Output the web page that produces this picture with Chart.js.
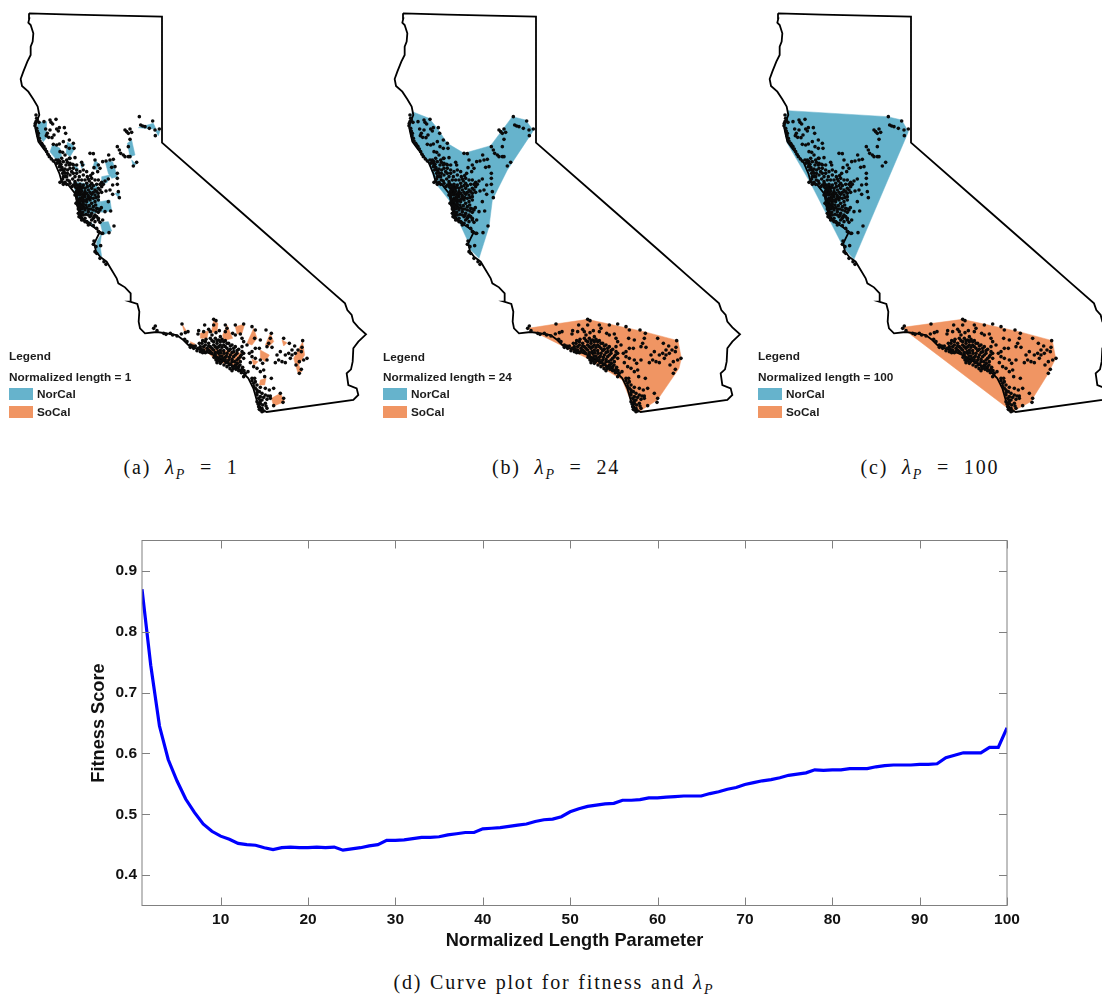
<!DOCTYPE html>
<html>
<head>
<meta charset="utf-8">
<script src="https://cdn.jsdelivr.net/npm/chart.js@4"></script>
<style>
  html, body { margin: 0; padding: 0; background: #fff; width: 1102px; height: 994px; overflow: hidden; }
  canvas { position: absolute; }
  .lg { position: absolute; font: bold 11.8px "Liberation Sans", Arial, sans-serif; color: #1c1c1c; white-space: nowrap; line-height: 12px; }
  .sw { position: absolute; width: 24px; height: 12px; }
  .cap { position: absolute; font: 20px "Liberation Serif", serif; letter-spacing: 1.8px; word-spacing: 1px; color: #111; text-align: center; white-space: nowrap; line-height: 20px; }
  .cap.short { word-spacing: 7px; }
  .cap i { font-size: 21px; }
  .cap sub { font-size: 14px; font-style: italic; line-height: 0; }
</style>
</head>
<body>
<canvas id="mapA" style="left:0px;top:0px"></canvas>
<canvas id="mapB" style="left:374.4px;top:0px"></canvas>
<canvas id="mapC" style="left:749.4px;top:0px"></canvas>
<canvas id="fitness" style="left:80px;top:530px"></canvas>
<script>
// fitness curve, lambda_P = 1..100
const lengthParam = [1,2,3,4,5,6,7,8,9,10,11,12,13,14,15,16,17,18,19,20,21,22,23,24,25,26,27,28,29,30,31,32,33,34,35,36,37,38,39,40,41,42,43,44,45,46,47,48,49,50,51,52,53,54,55,56,57,58,59,60,61,62,63,64,65,66,67,68,69,70,71,72,73,74,75,76,77,78,79,80,81,82,83,84,85,86,87,88,89,90,91,92,93,94,95,96,97,98,99,100];
const fitnessScore = [.87,.745,.645,.59,.555,.525,.503,.484,.472,.464,.459,.452,.45,.449,.445,.442,.445,.446,.445,.445,.446,.445,.446,.441,.443,.445,.448,.45,.457,.457,.458,.46,.462,.462,.463,.466,.468,.47,.47,.476,.477,.478,.48,.482,.484,.488,.491,.492,.496,.504,.509,.513,.515,.517,.518,.523,.523,.524,.527,.527,.528,.529,.53,.53,.53,.534,.537,.541,.544,.549,.552,.555,.557,.56,.564,.566,.568,.573,.572,.573,.573,.575,.575,.575,.578,.58,.581,.581,.581,.582,.582,.583,.593,.597,.601,.601,.601,.61,.61,.642];
const xTicks = [10,20,30,40,50,60,70,80,90,100];
const yTicks = [.4,.5,.6,.7,.8,.9];

// state outline, map units
const outline = [[87,40],[220,44],[350,47],[486,50],[486,428],[720,633],[850,747],[960,844],[1035,910],[1042,930],[1055,945],[1060,965],[1075,982],[1098,1003],[1075,1025],[1060,1045],[1058,1085],[1053,1108],[1040,1120],[1045,1155],[1070,1165],[1075,1185],[1060,1200],[800,1236],[785,1228],[770,1200],[760,1165],[745,1135],[715,1105],[680,1088],[640,1065],[600,1048],[570,1040],[550,1020],[530,1005],[500,1000],[470,996],[435,1000],[420,985],[416,965],[418,935],[412,912],[390,905],[392,880],[375,862],[355,850],[350,835],[335,810],[320,785],[300,770],[288,755],[283,730],[290,715],[300,695],[280,680],[255,665],[238,640],[232,610],[225,580],[205,555],[185,545],[178,520],[165,490],[150,470],[130,445],[115,425],[108,395],[105,378],[110,365],[118,345],[113,320],[100,298],[85,275],[66,258],[62,237],[70,215],[82,185],[92,165],[92,140],[98,125],[100,100],[92,75],[85,68],[88,55],[87,40]];

// station dots, read relative to the corner of each region
const norOrigin = [90, 315];
const norCalDots = [[18,30],[20,40],[18,50],[15,62],[20,70],[25,85],[28,100],[35,115],[42,125],[50,140],[58,155],[70,168],[80,175],
  [27,52],[42,50],[60,45],[63,52],[68,57],[78,43],[47,72],[60,75],[80,72],[88,68],[103,68],[107,85],[85,78],[72,90],[66,98],[56,97],[49,92],[52,85],[70,118],[80,120],[88,117],[100,110],[118,105],[130,115],[132,130],[118,130],[108,125],[98,142],[90,140],[105,150],[120,160],[135,158],[118,180],[130,180],[155,172],[158,180],[180,145],[190,146],[195,165],[205,180],[192,188],[188,205],[203,200],[210,190],
  [218,170],[228,168],[240,165],[250,163],[236,150],[262,125],[268,135],[272,145],[280,150],[285,155],[295,155],[300,155],[295,125],[300,103],[295,85],[285,75],[290,80],[305,82],[300,72],[328,35],[332,60],[338,63],[345,65],[358,70],[368,48],[375,75],[388,72],[376,92],[320,172],[310,183],[255,185],[245,187],[262,205],[262,220],[262,238],[248,240],[265,260],[268,278],[235,290],[242,318],[225,320],[218,345],[210,352],[205,340],[252,363],[237,383],[218,385],[192,408],[190,418],[198,425],[195,440],[212,422],[200,445],[210,460],[222,470],[228,478],
  [85,165],[88,175],[92,185],[100,195],[105,205],[100,215],[95,230],[105,232],[112,225],[120,235],[130,240],[135,230],[140,250],[145,260],[150,270],[140,275],[145,285],[150,295],[145,305],[150,320],[155,330],[165,340],[170,350],[180,355],[190,362],[200,370],[205,380],[215,385],
  [135,245],[142,240],[150,245],[155,250],[160,240],[170,235],[178,228],[185,235],[195,225],[205,225],[215,232],[225,228],[235,222],[215,245],[205,250],[195,255],[185,250],[175,255],[165,260],[158,268],[165,275],[175,272],[185,268],[195,270],[205,265],[215,262],[228,258],[240,255],[248,268],[205,285],[195,290],[180,285],[170,290],[160,290],[155,280],[168,300],[178,302],[190,305],[200,310],[210,315],[165,315],[175,320],[185,325],[195,330],[205,322],[160,305],[155,312],[150,310],[180,335],[190,340],[120,175],[130,190],[140,205],[148,215],[160,210],[172,215],[182,212],[125,200],[113,195],[108,180],[100,170],[95,160],[110,165],
  [146,255],[152,262],[158,275],[150,280],[146,292],[154,300],[160,298],[142,290],[148,315],[158,322],[146,268],[138,262],[142,268],[154,288],[165,268],[172,282],[185,295],[197,300],[145,325],[152,338],[160,345],[175,360],
  [90,170],[93,178],[96,188],[102,200],[92,195],[98,205],[106,215],[98,222],[90,232],[100,238],[110,238],[88,185],[84,172],[78,165],[105,192],[112,205],
  [22,78],[24,92],[30,108],[38,120],[46,132],[54,148],[64,162],[16,55],[22,45],
  [136,236],[144,246],[150,238],[158,245],[165,250],[172,245],[180,242],[190,242],[200,238],[210,238],[220,238],[140,258],[148,252],[155,258],[162,265],[170,265],[180,262],[190,262],[200,260],[210,255],[135,270],[142,282],[150,287],[158,283],[165,285],[175,280],[182,278],[190,280],[198,278],[205,275],[138,295],[143,300],[150,302],[157,308],[163,310],[170,308],[176,312],[183,312],[190,315],[198,318],[206,312],[214,308],[145,312],[152,325],[160,330],[168,328],[175,330],[183,332],[192,335],[200,335],[205,345],[147,335],[155,345],[165,350],[172,352],[185,345],[195,350],[125,245],[118,228],[128,222],[135,215],[145,225],[155,225],[165,225],[175,222],[185,220],[110,215],[120,210],[130,205],[140,195],[150,200],[160,195],[170,200],[120,190],[128,178],[140,180],[112,172],[118,160]];

const socOrigin = [436, 930];
const soCalDots = [[30,48],[25,55],[35,62],[55,70],[62,73],[75,70],[82,75],[95,78],[108,72],[120,68],[128,65],[110,42],[118,88],[125,95],[135,105],[145,115],[155,122],[165,125],
  [160,62],[158,72],[178,45],[190,58],[175,65],[195,65],[205,28],[212,32],[205,45],[200,75],[212,68],[222,62],[240,45],[245,55],[240,65],[225,80],[270,45],[295,42],[262,70],[270,75],[285,72],[290,85],[295,95],[320,50],[330,60],[328,85],[345,90],[362,60],[378,70],[375,85],[370,100],[365,110],[380,112],[415,85],[432,100],[448,108],[458,120],[472,92],[470,112],[468,125],[485,145],[475,150],[462,155],[468,178],[462,190],[452,165],[435,145],[420,135],[405,125],[395,135],[400,150],[390,158],[410,155],[420,158],[440,135],[450,130],[440,120],[430,130],[312,130],[320,125],[330,115],[342,115],[320,140],[330,145],[315,158],[345,150],[365,150],[352,160],[335,175],[345,185],[355,180],[358,200],[378,205],[308,185],[325,170],[295,130],[305,105],[290,110],
  [170,100],[180,95],[190,100],[200,92],[210,85],[220,90],[230,88],[240,92],[250,100],[260,105],[270,110],[280,118],[290,125],[165,110],[175,110],[185,115],[195,110],[205,105],[215,100],[225,105],[235,105],[245,115],[255,118],[265,125],[275,130],[285,140],[205,120],[215,115],[225,120],[235,122],[245,130],[255,135],[265,140],[275,150],[285,155],[210,135],[220,130],[230,138],[240,142],[250,150],[260,155],[270,165],[280,170],[290,178],[212,150],[222,145],[232,152],[242,158],[252,165],[262,170],[272,178],[215,158],[225,160],[300,190],[295,200],[195,125],[185,125],[175,120],
  [320,212],[330,215],[335,225],[325,230],[335,240],[345,232],[360,235],[372,240],[350,250],[360,255],[375,258],[335,255],[340,265],[350,270],[365,268],[375,265],[335,275],[345,280],[360,280],[340,290],[350,295],[355,303],[345,300],[405,250],[415,265],[413,277],[385,287],[365,295],
  [135,112],[142,108],[150,108],[158,115],[162,100],[172,92],[182,88],[195,85],[205,95],[215,92],[225,95],[235,95],[245,100],[255,108],[265,115],[275,122],[168,118],[180,105],[190,108],[200,115],[210,110],[220,110],[230,112],[240,110],[250,122],[260,128],[270,135],[280,145],[288,135],[295,145],[210,128],[218,125],[226,128],[236,130],[243,138],[252,142],[260,148],[268,155],[276,160],[284,165],[292,172],[215,142],[224,138],[232,145],[240,150],[248,158],[256,162],[264,175],[272,170],[280,182],[288,188],[296,182],[214,148],[220,152],[228,155],[236,165],[245,170],[254,176],[260,182],[206,142],[200,130],[190,120],[180,128],[172,128],
  [325,220],[330,235],[342,245],[335,248],[345,260],[355,262],[368,258],[345,272],[352,285],[362,288],[338,282],[342,298],[350,305],[385,235],[328,205],[320,205]];

// cluster regions for lambda = 1 (pieces), 24 and 100 (hulls)
const norPieces1 = [
  [[25,52],[50,50],[48,70],[52,95],[40,110],[30,95],[22,65]],
  [[68,118],[90,130],[95,155],[80,165],[60,140]],
  [[112,112],[130,120],[132,135],[120,155],[108,145]],
  [[225,168],[248,170],[262,215],[245,220],[235,205]],
  [[210,290],[240,285],[245,318],[215,322]],
  [[210,352],[235,350],[245,378],[220,390]],
  [[200,410],[215,385],[210,420],[215,455],[200,445]],
  [[292,115],[305,105],[315,150],[300,155]],
  [[325,68],[370,55],[378,72],[345,70]],
  [[375,75],[390,78],[385,92]],
  [[215,215],[240,210],[232,232],[215,240]],
  [[170,345],[190,358],[200,370],[185,365]],
  [[195,165],[208,178],[200,195],[188,190]],
  [[130,180],[145,190],[140,205]],
  [[150,170],[165,178],[155,190]],
  [[305,165],[318,178],[310,185]],
  [[255,265],[270,262],[265,278]],
  [[130,230],[200,240],[215,320],[160,330],[140,290]]
];
const socPieces1 = [
  [[110,42],[125,65],[118,70]],
  [[165,70],[190,62],[185,85],[165,85]],
  [[205,30],[218,40],[215,65],[198,68]],
  [[245,45],[262,85],[235,92],[232,75]],
  [[270,50],[298,42],[290,70],[275,72]],
  [[325,55],[335,85],[320,105],[305,100]],
  [[375,70],[385,95],[370,110],[360,105]],
  [[345,120],[372,135],[360,155],[345,145]],
  [[320,148],[338,155],[325,168]],
  [[345,210],[362,205],[358,225],[342,225]],
  [[378,265],[405,250],[418,275],[385,288]],
  [[472,95],[478,135],[460,165],[470,185],[458,190],[445,145]],
  [[135,95],[150,102],[140,112]],
  [[410,90],[425,98],[415,108]],
  [[170,110],[290,130],[280,170],[215,155]]
];
const norHull24 = [[115,335],[165,355],[190,385],[220,430],[270,460],[350,437],[415,350],[455,360],[478,392],[400,510],[355,600],[345,680],[315,775],[285,745],[280,720],[225,600],[185,550],[165,490],[115,425],[105,375]];
const socHull24 = [[462,985],[545,972],[640,958],[810,995],[912,1022],[922,1075],[915,1105],[850,1200],[795,1235],[775,1215],[745,1140],[640,1075],[570,1040],[500,1005]];
const norHull100 = [[117,332],[415,350],[458,360],[478,395],[315,778],[285,745],[185,550],[115,430],[103,375]];
const socHull100 = [[462,982],[640,958],[810,995],[910,1022],[920,1075],[895,1125],[845,1205],[790,1235],[470,992]];

const BLUE = '#66b3cc', ORANGE = '#f09563';

function toPoints(list, origin) {
  const o = origin || [0, 0];
  return list.map(p => ({ x: p[0] + o[0], y: p[1] + o[1] }));
}

function regionDataset(points, color, origin) {
  return {
    data: toPoints(points.concat([points[0]]), origin), showLine: true, fill: 'shape', tension: 0,
    backgroundColor: color, borderColor: color, borderWidth: 0.5, pointRadius: 0, order: 3,
  };
}

function renderMap(id, regions) {
  new Chart(document.getElementById(id), {
    type: 'scatter',
    data: {
      datasets: [
        { data: toPoints(norCalDots, norOrigin), backgroundColor: '#0a0a0a', borderWidth: 0, pointRadius: 1.8, order: 0 },
        { data: toPoints(soCalDots, socOrigin), backgroundColor: '#0a0a0a', borderWidth: 0, pointRadius: 1.8, order: 0 },
        { data: toPoints(outline), showLine: true, tension: 0, borderColor: '#000', borderWidth: 1.8, pointRadius: 0, order: 1 },
      ].concat(regions),
    },
    options: {
      responsive: false, animation: false, devicePixelRatio: 1,
      layout: { padding: 0, autoPadding: false },
      plugins: { legend: { display: false }, tooltip: { enabled: false } },
      scales: {
        x: { type: 'linear', display: false, min: 0, max: 1110 },
        y: { type: 'linear', display: false, min: 0, max: 1290, reverse: true },
      },
    },
  });
}

function sizeCanvas(id, w, h) {
  const c = document.getElementById(id);
  c.width = w; c.height = h; c.style.width = w + 'px'; c.style.height = h + 'px';
}

// inward ticks on all four sides plus the grey box
const boxTicks = {
  id: 'boxTicks',
  afterDatasetsDraw(chart) {
    const { ctx, chartArea: a, scales } = chart;
    ctx.save();
    ctx.strokeStyle = '#808080';
    ctx.lineWidth = 1;
    ctx.strokeRect(a.left, a.top, a.right - a.left, a.bottom - a.top);
    ctx.beginPath();
    xTicks.forEach(v => {
      const x = Math.round(scales.x.getPixelForValue(v)) + 0.5;
      ctx.moveTo(x, a.top); ctx.lineTo(x, a.top + 8);
      ctx.moveTo(x, a.bottom); ctx.lineTo(x, a.bottom - 8);
    });
    yTicks.forEach(v => {
      const y = Math.round(scales.y.getPixelForValue(v)) + 0.5;
      ctx.moveTo(a.left, y); ctx.lineTo(a.left + 8, y);
      ctx.moveTo(a.right, y); ctx.lineTo(a.right - 8, y);
    });
    ctx.stroke();
    ctx.restore();
  },
};

function renderFitness() {
  const tickFont = { family: '"Liberation Sans", Arial, sans-serif', weight: 'bold', size: 15.5 };
  const titleFont = { family: '"Liberation Sans", Arial, sans-serif', weight: 'bold', size: 18.2 };
  new Chart(document.getElementById('fitness'), {
    type: 'line',
    data: {
      labels: lengthParam,
      datasets: [{
        data: lengthParam.map((x, i) => ({ x: x, y: fitnessScore[i] })),
        borderColor: '#0000ff', borderWidth: 3.2, pointRadius: 0, tension: 0, fill: false,
      }],
    },
    options: {
      responsive: false, animation: false, devicePixelRatio: 1,
      layout: { padding: { left: 0, right: 73, top: 10.5, bottom: 0 }, autoPadding: false },
      plugins: { legend: { display: false }, tooltip: { enabled: false } },
      scales: {
        x: {
          type: 'linear', min: 1, max: 100,
          afterBuildTicks: s => { s.ticks = xTicks.map(v => ({ value: v })); },
          afterFit: s => { s.height = 54.5; s.paddingLeft = 0; s.paddingRight = 0; },
          grid: { display: false, drawTicks: false },
          border: { display: false },
          ticks: { color: '#111', font: tickFont, maxRotation: 0, autoSkip: false, padding: 5, callback: v => String(v) },
          title: { display: true, text: 'Normalized Length Parameter', color: '#111', font: titleFont, padding: { top: 0, bottom: 8 } },
        },
        y: {
          type: 'linear', min: 0.35, max: 0.95,
          afterBuildTicks: s => { s.ticks = yTicks.map(v => ({ value: v })); },
          afterFit: s => { s.width = 62; s.paddingTop = 0; s.paddingBottom = 0; },
          grid: { display: false, drawTicks: false },
          border: { display: false },
          ticks: { color: '#111', font: tickFont, autoSkip: false, padding: 5, callback: v => v.toFixed(1) },
          title: { display: true, text: 'Fitness Score', color: '#111', font: titleFont, padding: { top: 8, bottom: 0 } },
        },
      },
    },
    plugins: [boxTicks],
  });
}

function addText(cls, text, left, top) {
  const d = document.createElement('div');
  d.className = cls;
  d.textContent = text;
  d.style.left = left + 'px';
  d.style.top = top + 'px';
  document.body.appendChild(d);
}

function addLegend(left, legendY, length) {
  addText('lg', 'Legend', left, legendY - 6);
  addText('lg', 'Normalized length = ' + length, left, 371);
  addText('lg', 'NorCal', left + 28, 388);
  addText('lg', 'SoCal', left + 28, 406);
  [[388, BLUE], [406, ORANGE]].forEach(([y, color]) => {
    const s = document.createElement('div');
    s.className = 'sw';
    s.style.left = left + 'px';
    s.style.top = y + 'px';
    s.style.background = color;
    document.body.appendChild(s);
  });
}

function addCaption(center, top, label, tail, cls) {
  const d = document.createElement('div');
  d.className = 'cap ' + cls;
  d.innerHTML = label + ' <i>&lambda;</i><sub>P</sub>' + tail;
  document.body.appendChild(d);
  d.style.top = top + 'px';
  d.style.left = (center - d.offsetWidth / 2) + 'px';
}

document.addEventListener('DOMContentLoaded', () => {
  ['mapA', 'mapB', 'mapC'].forEach(id => sizeCanvas(id, 370, 430));
  sizeCanvas('fitness', 1000, 430);

  const pieces = norPieces1.map(p => regionDataset(p, BLUE, norOrigin))
    .concat(socPieces1.map(p => regionDataset(p, ORANGE, socOrigin)));
  renderMap('mapA', pieces);
  renderMap('mapB', [regionDataset(norHull24, BLUE), regionDataset(socHull24, ORANGE)]);
  renderMap('mapC', [regionDataset(norHull100, BLUE), regionDataset(socHull100, ORANGE)]);
  renderFitness();

  addLegend(9, 356, 1);
  addLegend(383, 357, 24);
  addLegend(758, 356, 100);
  addCaption(181, 457, '(a)', ' = 1', 'short');
  addCaption(556, 457, '(b)', ' = 24', 'short');
  addCaption(930, 457, '(c)', ' = 100', 'short');
  addCaption(554, 972, '(d) Curve plot for fitness and', '', '');
});
</script>
</body>
</html>
